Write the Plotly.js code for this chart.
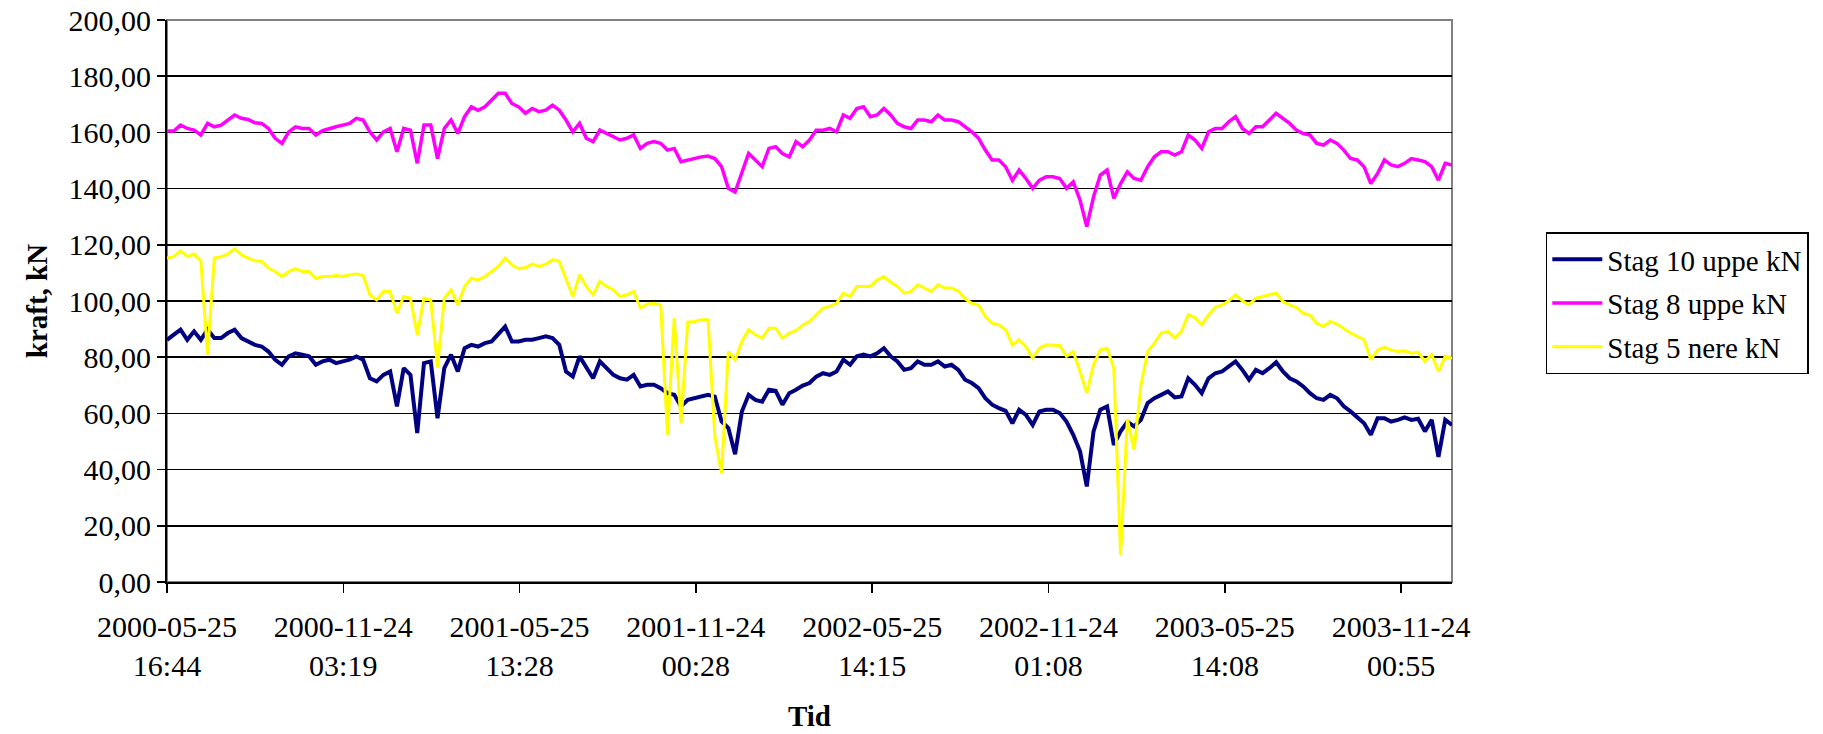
<!DOCTYPE html>
<html>
<head>
<meta charset="utf-8">
<script src="https://cdn.plot.ly/plotly-3.0.1.min.js"></script>
<style>
  html, body { margin: 0; padding: 0; background: #ffffff; }
  #chart { width: 1823px; height: 734px; }
</style>
</head>
<body>
<div id="chart"></div>
<script>
// Stay forces, one reading per week from the start of logging
const startTime = '2000-05-25T16:44:00';
const stepDays = 7;

const stag10 = [
  86.2, 88, 89.8, 86.2, 89.2, 86.2, 89.8, 86.8, 86.8, 88.6,
  89.8, 86.8, 85.6, 84.4, 83.8, 82, 79.1, 77.3, 80.3, 81.4,
  80.9, 80.3, 77.3, 78.5, 79.1, 77.9, 78.5, 79.1, 80.3, 79.1,
  72.5, 71.4, 73.7, 74.9, 62.5, 76.1, 73.7, 53, 77.9, 78.5,
  58.3, 76.1, 80.9, 74.9, 83.2, 84.4, 83.8, 85, 85.6, 88,
  90.9, 85.6, 85.6, 86.2, 86.2, 86.8, 87.4, 86.8, 84.4, 74.9,
  73.1, 80.3, 76.7, 72.5, 78.5, 76.1, 73.7, 72.5, 72, 73.7,
  69.6, 70.2, 70.2, 69, 67.2, 66.6, 62.5, 64.8, 65.4, 66,
  66.6, 66, 57.1, 54.8, 45.5, 60.7, 66.6, 64.8, 64.2, 68.4,
  68, 63.1, 67.2, 68.4, 69.9, 70.8, 73.1, 74.3, 73.7, 74.9,
  79.1, 77.3, 80.3, 80.9, 80.3, 81.4, 83.2, 80.3, 78.5, 75.5,
  76.1, 78.5, 77.3, 77.3, 78.5, 76.7, 77.3, 75.5, 72, 70.8,
  69, 65.4, 63.1, 61.9, 60.9, 56.5, 61.3, 59.5, 55.9, 60.7,
  61.3, 61.3, 60.1, 57.1, 52.4, 46.5, 34, 53.6, 61.3, 62.5,
  48.8, 53.6, 57, 55.4, 57.7, 63.7, 65.4, 66.6, 67.8, 65.7,
  66, 72.5, 70.2, 67.2, 72.5, 74.3, 74.9, 76.7, 78.5, 75.5,
  72, 75.5, 74.3, 76.1, 78.2, 74.9, 72.5, 71.4, 69.6, 67.2,
  65.4, 64.8, 66.6, 65.4, 62.5, 60.7, 58.6, 56.5, 52.4, 58.3,
  58.3, 57.1, 57.7, 58.6, 57.7, 58.1, 53.6, 57.7, 44.5, 57.7,
  55.9
];

const stag8 = [
  160.5, 160.5, 162.6, 161.4, 160.8, 159.1, 163.2, 162, 162.6, 164.4,
  166.2, 165, 164.6, 163.4, 163.2, 161.4, 157.9, 156.1, 160.2, 162,
  161.4, 161.4, 159.1, 160.6, 161.4, 162, 162.6, 163.2, 165, 164.4,
  160.2, 157.3, 160.2, 161.4, 153.1, 161.4, 160.8, 149, 162.6, 162.6,
  150.7, 161.4, 164.4, 159.6, 165.6, 169.1, 167.9, 169.1, 171.5, 173.9,
  173.9, 170.3, 169.1, 166.8, 168.5, 167.4, 167.9, 169.7, 167.9, 164.4,
  160.2, 163.2, 157.9, 156.7, 160.8, 159.6, 158.5, 157.3, 157.9, 159.1,
  154.3, 156.1, 156.7, 156.1, 153.7, 154.3, 149.6, 150.2, 150.7, 151.3,
  151.6, 150.7, 147.8, 140.1, 138.8, 145.4, 152.5, 150.2, 147.8, 154.3,
  154.9, 152.5, 151.3, 156.7, 154.9, 157.3, 160.8, 160.8, 161.4, 160.2,
  166.2, 165, 168.5, 169.1, 165.6, 166.2, 168.5, 166.2, 163.2, 162,
  161.4, 164.4, 164.4, 163.8, 166.2, 164.4, 164.4, 163.8, 162, 160.2,
  157.9, 153.7, 150.2, 150.2, 147.8, 143, 146.6, 143.6, 140.1, 143,
  144.2, 144.2, 143.6, 140.1, 142.4, 135.9, 126.5, 137.1, 144.8, 146.6,
  136.5, 141.8, 146, 143.6, 143, 147.8, 151.3, 153.1, 153.1, 151.9,
  153.1, 159.1, 157.3, 154.3, 160.2, 161.4, 161.4, 163.8, 165.6, 161.4,
  159.6, 162, 162, 164.4, 166.8, 165, 163.2, 160.8, 159.6, 159.1,
  156.1, 155.5, 157.3, 156.1, 153.7, 150.7, 150.2, 147.8, 141.8, 145.4,
  150.2, 148.4, 147.8, 149, 150.7, 150.2, 149.6, 147.8, 143, 149,
  148.4
];

const stag5 = [
  115.3, 115.8, 117.9, 115.8, 116.7, 114.3, 81, 115.3, 115.8, 116.7,
  118.6, 116.4, 115.3, 114.3, 114.1, 111.7, 110.5, 108.7, 110.5, 111.5,
  110.5, 110.5, 108.1, 108.7, 108.7, 109.1, 108.7, 109.3, 109.6, 109.1,
  102.2, 100.4, 103.4, 103.4, 95.7, 101.6, 101, 88, 101, 100.4,
  76.5, 101, 104, 98.6, 105.2, 108.1, 107.5, 108.7, 110.5, 112.3,
  115.3, 112.9, 111.5, 111.9, 113.1, 112.3, 113.1, 114.7, 114.1, 108.1,
  101.6, 109.3, 105.2, 102.2, 107, 105.2, 104, 101.6, 102.2, 103.4,
  97.5, 98.9, 99.2, 98.6, 52.4, 93.9, 56.5, 92.5, 92.7, 93.3,
  93.3, 51.8, 38.7, 82, 79.1, 85.6, 89.8, 88, 86.8, 90.3,
  90.3, 86.8, 88.6, 89.4, 91.5, 92.7, 95.1, 97.5, 98.1, 99.2,
  102.8, 101.6, 105.2, 105.2, 105.2, 107.5, 108.7, 106.7, 105.2, 102.8,
  103.4, 105.8, 104.6, 103.4, 105.8, 104.6, 104.6, 103.6, 100.8, 99.2,
  98.6, 94.5, 92.1, 91.5, 89.8, 84.4, 86.2, 83.8, 79.7, 83.2,
  84.4, 84.4, 84.2, 80.3, 82, 74.9, 67.2, 77.3, 82.6, 83.2,
  76.1, 9.5, 58, 47, 70, 82, 85, 88.6, 89.2, 86.8,
  89.2, 95.1, 94.1, 91.5, 95.1, 97.7, 98.6, 100.1, 102.2, 100.1,
  98.6, 101, 101.6, 102.2, 102.8, 99.8, 98.6, 97.7, 95.7, 94.9,
  92.1, 90.9, 92.7, 91.8, 90.1, 88.6, 87.4, 86.2, 79.1, 82.6,
  83.5, 82.6, 82, 82.3, 81.4, 81.8, 78.5, 80.9, 74.9, 80.3,
  79.7
];

const seriesNames = ['Stag 10 uppe kN', 'Stag 8 uppe kN', 'Stag 5 nere kN'];
const seriesColors = ['#000080', '#FF00FF', '#FFFF00'];
const seriesWidths = [4, 3.5, 3];

const tickDates = [
  '2000-05-25 16:44', '2000-11-24 03:19', '2001-05-25 13:28', '2001-11-24 00:28',
  '2002-05-25 14:15', '2002-11-24 01:08', '2003-05-25 14:08', '2003-11-24 00:55'
];

// Timestamps of the weekly readings
const t0 = new Date(startTime + 'Z').getTime();
const times = stag10.map((_, i) => {
  const d = new Date(t0 + i * stepDays * 86400000);
  return d.toISOString().slice(0, 16).replace('T', ' ');
});

const serif = '"Liberation Serif", "Times New Roman", serif';

const traces = [stag10, stag8, stag5].map((vals, k) => ({
  type: 'scatter',
  mode: 'lines',
  x: times,
  y: vals,
  name: seriesNames[k],
  legendgroup: 'g' + k,
  line: { color: seriesColors[k], width: seriesWidths[k] },
  hoverinfo: 'skip'
}));

const layout = {
  width: 1823,
  height: 734,
  margin: { l: 167, r: 371, t: 20, b: 152 },
  paper_bgcolor: '#ffffff',
  plot_bgcolor: '#ffffff',
  separators: ', ',
  font: { family: serif, size: 30, color: '#000000' },
  xaxis: {
    type: 'date',
    tickvals: tickDates,
    ticktext: tickDates.map(s => s.replace(' ', '<br>')),
    tickangle: 0,
    ticks: 'outside',
    ticklen: 9,
    tickwidth: 1.5,
    tickcolor: '#000000',
    ticklabelstandoff: 8,
    showgrid: false,
    showline: true,
    linecolor: '#000000',
    linewidth: 2,
    zeroline: false,
    tickfont: { family: serif, size: 30, color: '#000000' },
    title: { text: '<b>Tid</b>', font: { family: serif, size: 29, color: '#000000' }, standoff: 25 }
  },
  yaxis: {
    range: [0, 200],
    dtick: 20,
    tick0: 0,
    tickformat: '.2f',
    ticks: 'outside',
    ticklen: 8,
    tickwidth: 1.5,
    tickcolor: '#000000',
    showgrid: true,
    gridcolor: '#000000',
    gridwidth: 1.5,
    showline: true,
    linecolor: '#000000',
    linewidth: 2,
    zeroline: false,
    tickfont: { family: serif, size: 30, color: '#000000' },
    title: { text: '<b>kraft, kN</b>', font: { family: serif, size: 29, color: '#000000' }, standoff: 12 }
  },
  shapes: [{
    type: 'rect', xref: 'paper', yref: 'paper', x0: 0, x1: 1, y0: 0, y1: 1,
    line: { color: '#808080', width: 2 }, layer: 'below'
  }],
  showlegend: true,
  legend: {
    x: 1.073, y: 0.622, xanchor: 'left', yanchor: 'top',
    bordercolor: '#000000', borderwidth: 1.5, bgcolor: '#ffffff',
    font: { family: serif, size: 29, color: '#000000' },
    tracegroupgap: 3,
    itemwidth: 50
  }
};

Plotly.newPlot('chart', traces, layout, { displayModeBar: false, staticPlot: true });
</script>
</body>
</html>
